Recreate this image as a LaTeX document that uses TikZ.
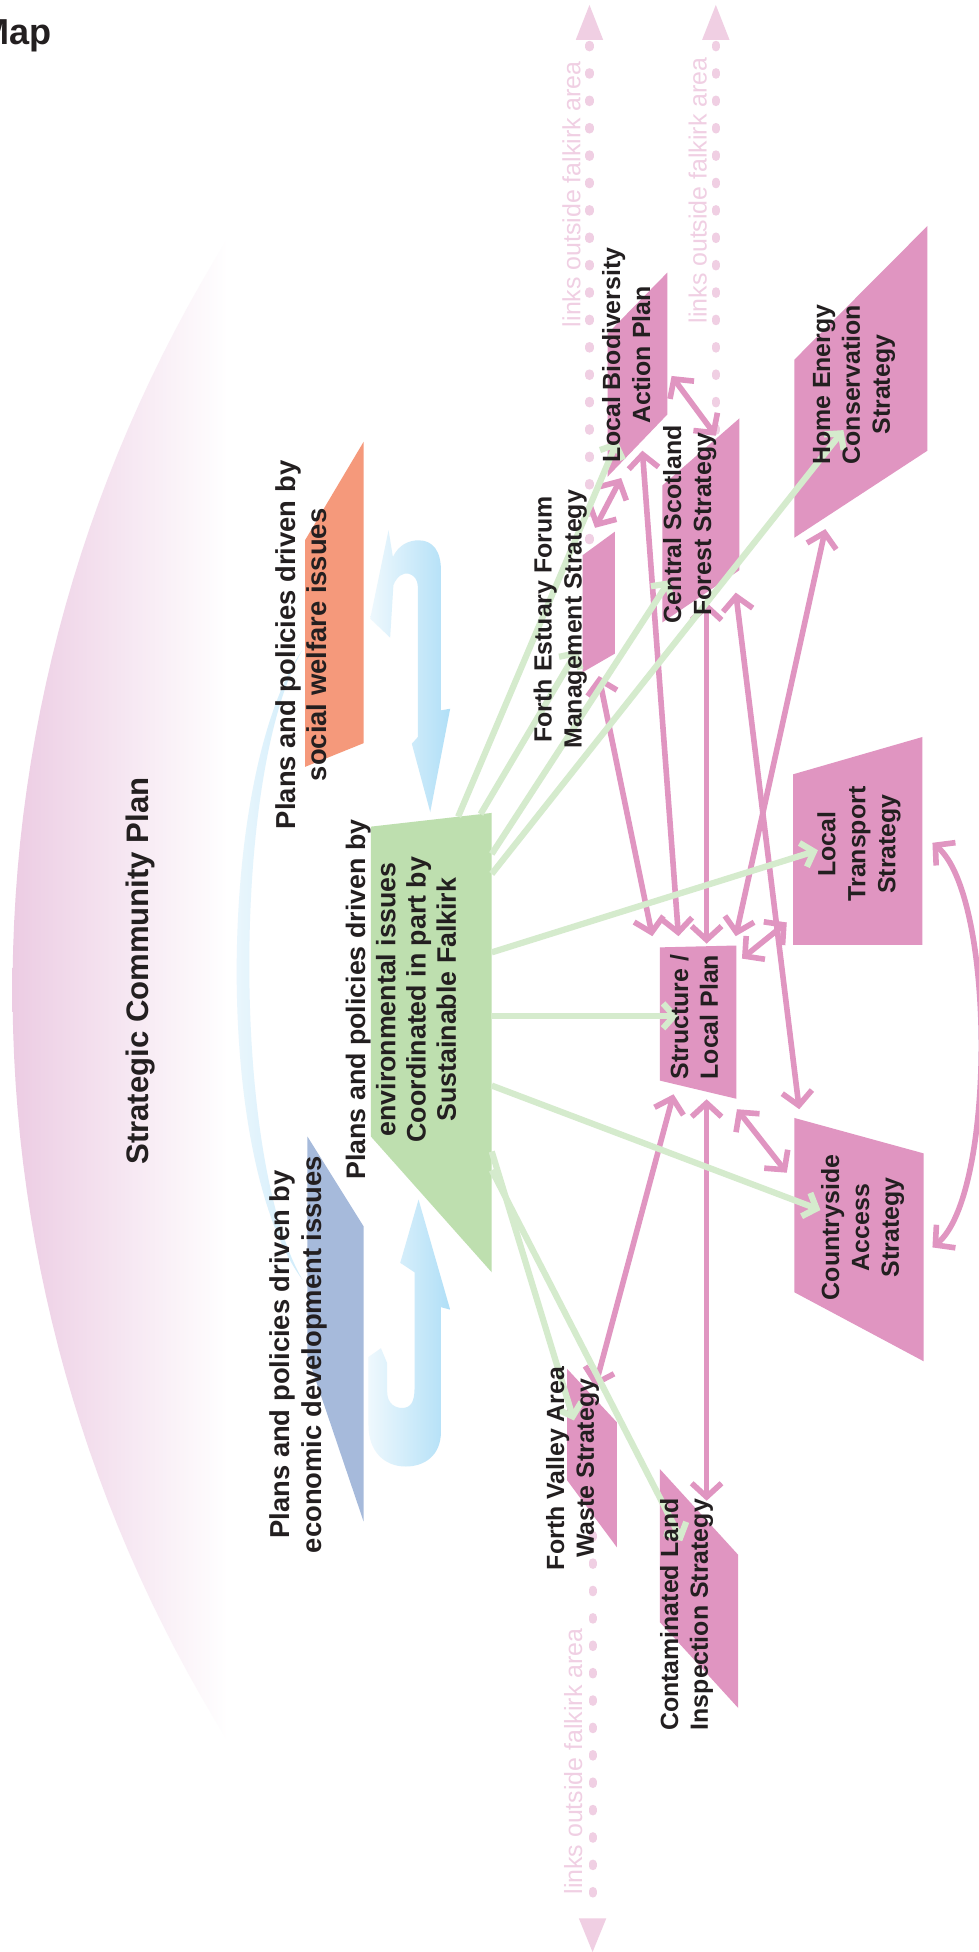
\documentclass[tikz,border=0pt]{standalone}
\usepackage{fontspec}
\setmainfont{Liberation Sans}
\usetikzlibrary{arrows.meta}
\definecolor{pinkbox}{RGB}{224,149,193}
\definecolor{greenbox}{RGB}{190,223,175}
\definecolor{greenline}{RGB}{213,235,205}
\definecolor{orangebox}{RGB}{245,153,123}
\definecolor{bluebox}{RGB}{166,186,219}
\definecolor{dotpink}{RGB}{240,207,227}
\definecolor{lenspink}{RGB}{236,204,227}
\definecolor{txt}{RGB}{35,31,32}
\definecolor{bluelight}{RGB}{238,248,253}
\definecolor{bluemid}{RGB}{176,223,247}
\begin{document}
\begin{tikzpicture}[x=1pt,y=-1pt,
  lbl/.style={rotate=90, align=center, text=txt, inner sep=0pt, font=\bfseries\fontsize{20}{24}\selectfont},
  bigl/.style={lbl, font=\bfseries\fontsize{22}{25.5}\selectfont},
  envl/.style={lbl, font=\bfseries\fontsize{21.5}{24.3}\selectfont},
  titlel/.style={lbl, font=\bfseries\fontsize{25}{28}\selectfont},
  linkl/.style={rotate=90, inner sep=0pt, text=dotpink, font=\fontsize{20}{24}\selectfont},
  dotline/.style={draw=dotpink, line width=6.5pt, line cap=round, dash pattern=on 2pt off 20pt},
  plink/.style={draw=pinkbox, line width=4.5pt, <->, >={Straight Barb[length=11pt,width=24pt]}},
  glink/.style={draw=greenline, line width=5pt, ->, >={Straight Barb[length=9pt,width=20pt]}},
  pbox/.style={fill=pinkbox}
]
\useasboundingbox (0,0) rectangle (786,1568);
\fill[white] (0,0) rectangle (786,1568);

% Strategic community plan lens
\shade[left color=lenspink, right color=white]
  plot[domain=-32:32, samples=60] ({1149.5-1139.5*cos(\x)},{795+1139.5*sin(\x)}) -- cycle;

% faint blue arc
\shade[left color=bluelight!70!white, right color=bluemid!60!white]
  (243,522) .. controls (175,620) and (170,930) .. (243,1028)
  .. controls (186,930) and (186,620) .. (243,522) -- cycle;

% dotted "links outside" lines
\coordinate (d1a) at (473.5,36); \coordinate (d1b) at (473.5,440);
\coordinate (d2a) at (575,36);   \coordinate (d2b) at (575,352);
\coordinate (d3a) at (476,1189); \coordinate (d3b) at (476,1535);
\draw[dotline] (d1a) -- (d1b);
\draw[dotline] (d2a) -- (d2b);
\draw[dotline] (d3a) -- (d3b);
\fill[dotpink] (473.5,4) -- (484.5,32) -- (462.5,32) -- cycle;
\fill[dotpink] (575,4) -- (586,32) -- (564,32) -- cycle;
\fill[dotpink] (476,1568) -- (487,1541) -- (465,1541) -- cycle;
\node[linkl] (lk1) at (459,156) {links outside falkirk area};
\node[linkl] (lk2) at (560.5,153) {links outside falkirk area};
\node[linkl] (lk3) at (460.5,1415) {links outside falkirk area};

% driver boxes
\fill[orangebox] (245,434) -- (292,355) -- (292,597) -- (245,616) -- cycle;
\fill[bluebox] (247,913) -- (292,985) -- (292,1222) -- (247,1089) -- cycle;
\fill[greenbox] (298,664) -- (395,653) -- (395,1022) -- (298,913) -- cycle;

% blue U arrows
\shade[left color=bluelight, right color=bluemid]
  (312.1,425.9) -- (315.6,447.4) .. controls (320,438) and (328,434) .. (336.2,434)
  .. controls (348,434) and (354.2,443) .. (354.2,458.1) -- (354.2,570.6) -- (361.6,569.3)
  -- (345.6,652.3) -- (330.8,597.4) -- (335.7,592) -- (335.7,471.5)
  .. controls (335.7,460) and (322,455) .. (316,470) -- (313.4,512.2) -- (297.4,496.9) -- cycle;
\shade[left color=bluelight, right color=bluemid]
  (336.2,963.6) -- (361.6,1052) -- (354.2,1050) -- (354.2,1150)
  .. controls (354.2,1170) and (340,1178) .. (326,1178)
  .. controls (308,1178) and (296,1165) .. (296,1145) -- (296,1090) -- (306,1083) -- (311,1095)
  -- (311,1118) .. controls (311,1128) and (318,1131) .. (323,1131)
  .. controls (330,1131) and (333,1126) .. (333,1115) -- (333,1022) -- (321.5,1014.4) -- cycle;

% pink strategy boxes
\fill[pbox] (488,268) -- (536,219) -- (536,333) -- (488,383) -- cycle;
\fill[pbox] (468,446) -- (494,427) -- (494,525) -- (468,540) -- cycle;
\fill[pbox] (532,390) -- (594,336) -- (594,458) -- (532,500) -- cycle;
\fill[pbox] (638,289) -- (745,181.5) -- (745,362) -- (638,432) -- cycle;
\fill[pbox] (637,622) -- (741,592) -- (741,759) -- (637,759) -- cycle;
\fill[pbox] (638,898) -- (742,926.5) -- (742,1093.5) -- (638,1038) -- cycle;
\fill[pbox] (530,761) -- (591.5,759.5) -- (591.5,882.6) -- (530,868) -- cycle;
\fill[pbox] (455.5,1099.5) -- (495.6,1142.6) -- (495.6,1243) -- (455.5,1189) -- cycle;
\fill[pbox] (530,1180) -- (593,1249) -- (593,1372) -- (530,1303) -- cycle;

% pink connectors
\coordinate (p1a) at (481,543);   \coordinate (p1b) at (524,752);
\coordinate (p2a) at (516,362);   \coordinate (p2b) at (545,752);
\coordinate (p3a) at (567.6,484); \coordinate (p3b) at (567.6,758);
\coordinate (p4a) at (539.5,302); \coordinate (p4b) at (575,350);
\coordinate (p5a) at (478,424);   \coordinate (p5b) at (499,384);
\coordinate (p6a) at (591,476);   \coordinate (p6b) at (642,891);
\coordinate (p7a) at (663,425);   \coordinate (p7b) at (591,752);
\coordinate (p8a) at (596,770);   \coordinate (p8b) at (632,741);
\coordinate (p9a) at (592,891);   \coordinate (p9b) at (632,942);
\coordinate (p10a) at (541,879);  \coordinate (p10b) at (478,1114);
\coordinate (p11a) at (567.6,883);\coordinate (p11b) at (567.6,1205.5);
\coordinate (p12a) at (749,677);  \coordinate (p12b) at (749,1002);
\draw[plink] (p1a) -- (p1b);
\draw[plink] (p2a) -- (p2b);
\draw[plink] (p3a) -- (p3b);
\draw[plink] (p4a) -- (p4b);
\draw[plink] (p5a) -- (p5b);
\draw[plink] (p6a) -- (p6b);
\draw[plink] (p7a) -- (p7b);
\draw[plink] (p8a) -- (p8b);
\draw[plink] (p9a) -- (p9b);
\draw[plink] (p10a) -- (p10b);
\draw[plink] (p11a) -- (p11b);
\draw[plink] (p12a) .. controls (800,720) and (800,960) .. (p12b);

% green connectors
\coordinate (g1a) at (368,656); \coordinate (g1b) at (496,354);
\coordinate (g2a) at (386,654); \coordinate (g2b) at (464,522);
\coordinate (g3a) at (395,686); \coordinate (g3b) at (538,466);
\coordinate (g4a) at (395,702); \coordinate (g4b) at (677.5,345.5);
\coordinate (g5a) at (395,765); \coordinate (g5b) at (657,683);
\coordinate (g6a) at (395,816); \coordinate (g6b) at (545,816);
\coordinate (g7a) at (395,872); \coordinate (g7b) at (659,972);
\coordinate (g8a) at (395,925); \coordinate (g8b) at (461,1141);
\coordinate (g9a) at (395,940); \coordinate (g9b) at (548,1238);
\foreach \i in {1,...,9} { \draw[glink] (g\i a) -- (g\i b); }

% texts
\node[font=\bfseries\fontsize{29}{30}\selectfont, text=txt, anchor=base east, inner sep=0pt] (map) at (42,36) {Map};
\node[titlel] (scp) at (112.5,780) {Strategic Community Plan};
\node[bigl] (social) at (242,518) {Plans and policies driven by\\social welfare issues};
\node[bigl] (econ) at (240,1088) {Plans and policies driven by\\economic development issues};
\node[envl] (env) at (322,803) {Plans and policies driven by\\environmental issues\\Coordinated in part by\\Sustainable Falkirk};
\node[lbl] (fef) at (450,497.5) {Forth Estuary Forum\\Management Strategy};
\node[lbl] (css) at (554,421) {Central Scotland\\Forest Strategy};
\node[lbl] (lbap) at (503,285) {Local Biodiversity\\Action Plan};
\node[lbl] (hec) at (686,309) {Home Energy\\Conservation\\Strategy};
\node[lbl] (lts) at (690,678) {Local\\Transport\\Strategy};
\node[lbl] (cas) at (693,986) {Countryside\\Access\\Strategy};
\node[lbl] (slp) at (557.5,817) {Structure /\\Local Plan};
\node[lbl] (fvw) at (460,1179.5) {Forth Valley Area\\Waste Strategy};
\node[lbl] (cli) at (551.5,1297) {Contaminated Land\\Inspection Strategy};
\end{tikzpicture}
\end{document}
